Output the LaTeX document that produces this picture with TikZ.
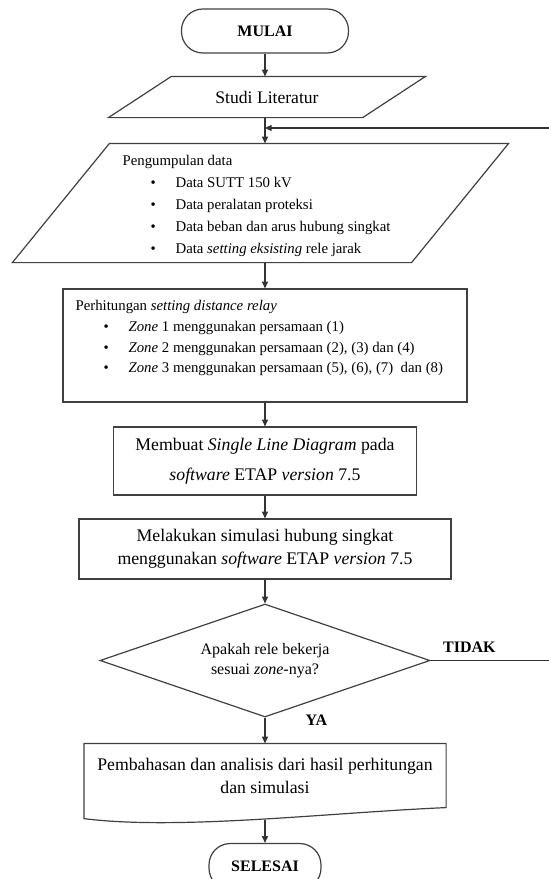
\documentclass[tikz,border=0pt]{standalone}
\usepackage{fontspec}
\setmainfont{Liberation Serif}
\usetikzlibrary{positioning,arrows.meta,shapes.geometric,calc}
\newcommand{\bul}[1]{\hspace*{21pt}\makebox[18.75pt][l]{\textbullet}#1}

\begin{document}
\begin{tikzpicture}[
    x=0.75pt, y=-0.75pt,
    line width=0.9pt,
    terminal/.style={rectangle, draw=black!75, rounded corners=16pt,
                     font=\fontsize{12}{14}\selectfont\bfseries, inner sep=0pt},
    iobox/.style={rectangle, inner sep=0pt, font=\fontsize{13.2}{16}\selectfont},
    procbox/.style={rectangle, draw=black!75, align=center, inner sep=0pt,
                    font=\fontsize{13.3}{17.25}\selectfont},
    decision/.style={diamond, draw=black!75, align=center, inner sep=0pt,
                     aspect=2.92, font=\fontsize{12}{15}\selectfont},
    listtext/.style={align=left, inner sep=0pt, anchor=north west},
    lbl/.style={font=\fontsize{12}{14}\selectfont\bfseries, inner sep=0pt},
    arr/.style={draw=black!80, -{Triangle[length=5pt, width=4.5pt]}},
]
\useasboundingbox (0,0) rectangle (549,879);
\coordinate (spine) at (265,0);

% Start
\node[terminal, minimum width=125.25pt, minimum height=33pt] (mulai) at (265,31) {MULAI};

% Input boxes (slanted outlines drawn round the nodes)
\node[iobox, minimum width=189.75pt, minimum height=30pt] (studi) at (267,97) {Studi Literatur};
\draw[draw=black!75] ([xshift=-23.6pt]studi.south west) -- ([xshift=23.6pt]studi.north west)
    -- ([xshift=23.6pt]studi.north east) -- ([xshift=-23.6pt]studi.south east) -- cycle;

\node[iobox, minimum width=298.5pt, minimum height=88.5pt] (data) at (260.5,203) {};
\draw[draw=black!75] ([xshift=-36.4pt]data.south west) -- ([xshift=36.4pt]data.north west)
    -- ([xshift=36.4pt]data.north east) -- ([xshift=-36.4pt]data.south east) -- cycle;
\node[listtext, font=\fontsize{11.1}{16.5}\selectfont] (datatxt) at (122,154.5)
    {Pengumpulan data\\\bul{Data SUTT 150 kV}\\\bul{Data peralatan proteksi}\\
     \bul{Data beban dan arus hubung singkat}\\\bul{Data \textit{setting eksisting} rele jarak}};

% Setting calculation
\node[procbox, minimum width=303pt, minimum height=84.75pt] (perh) at (265,345.5) {};
\node[listtext, font=\fontsize{11.1}{15.5}\selectfont] (perhtxt) at (75,300)
    {Perhitungan \textit{setting distance relay}\\
     \bul{\textit{Zone} 1 menggunakan persamaan (1)}\\
     \bul{\textit{Zone} 2 menggunakan persamaan (2), (3) dan (4)}\\
     \bul{\textit{Zone} 3 menggunakan persamaan (5), (6), (7) \ dan (8)}};

% ETAP steps
\node[procbox, minimum width=227.25pt, minimum height=51pt,
      font=\fontsize{13.3}{22.5}\selectfont] (membuat) at (265,461)
    {Membuat \textit{Single Line Diagram} pada\\\textit{software} ETAP \textit{version} 7.5};
\node[procbox, minimum width=279pt, minimum height=45pt] (melakukan) at (265,549)
    {Melakukan simulasi hubung singkat\\menggunakan \textit{software} ETAP \textit{version} 7.5};

% Decision
\node[decision, minimum width=247.5pt, minimum height=84.75pt] (dec) at (265,660.5)
    {Apakah rele bekerja\\sesuai \textit{zone}-nya?};
\node[lbl, anchor=south west] (tidak) at ([xshift=9pt, yshift=5.25pt]dec.east) {TIDAK};
\node[lbl, anchor=base west] (ya) at ([xshift=30pt, yshift=-6pt]dec.south) {YA};

% Document box
\node[procbox, draw=none, minimum width=270.75pt, minimum height=47.25pt] (pemb) at (265,775.5)
    {Pembahasan dan analisis dari hasil perhitungan\\dan simulasi};
\draw[draw=black!75] (pemb.north west) -- ([yshift=-8.25pt]pemb.south west)
    .. controls +(94,12) and +(-117,5) .. (pemb.south east) -- (pemb.north east) -- cycle;

% End
\node[terminal, minimum width=84pt, minimum height=34.5pt] (selesai) at (265,866.5) {SELESAI};

% Flow
\draw[arr] (mulai) -- (mulai |- studi.north);
\draw[arr] (studi.south -| spine) -- (data.north -| spine);
\draw[arr] (data.south -| spine) -- (perh);
\draw[arr] (perh) -- (membuat);
\draw[arr] (membuat) -- (melakukan);
\draw[arr] (melakukan) -- (dec);
\draw[arr] (dec) -- (pemb);
\draw[arr] ([yshift=-9pt]pemb.south) -- (selesai);

% Loop back
\coordinate (join) at (265,128);
\draw[arr] (dec.east) -- ++(125,0) |- (join);
\end{tikzpicture}
\end{document}
